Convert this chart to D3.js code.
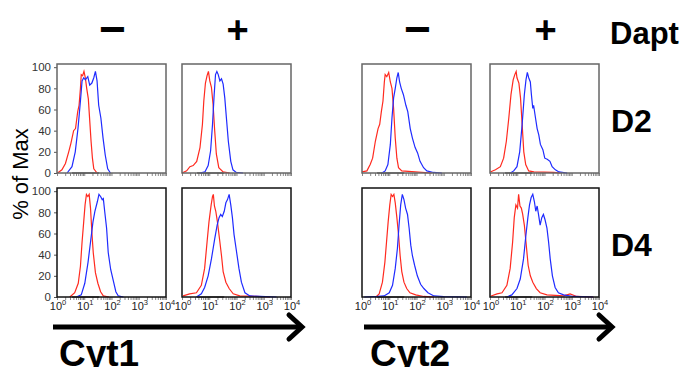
<!DOCTYPE html>
<html>
<head>
<meta charset="utf-8">
<script src="https://cdn.jsdelivr.net/npm/d3@7"></script>
<style>
  body { margin: 0; background: #fff; }
  svg { display: block; font-family: "Liberation Sans", Arial, sans-serif; }
</style>
</head>
<body>
<div id="chart"></div>
<script>
// histogram points: [log10 fluorescence, % of max]
const cyt1D2NegRed = [[0.02,0],[0.18,3],[0.31,9],[0.43,20],[0.51,28],[0.61,40],[0.68,42],[0.76,58],[0.81,64],[0.86,80],[0.89,93],[0.94,92],[0.99,96],[1.04,90],[1.09,80],[1.15,70],[1.2,50],[1.25,30],[1.3,14],[1.35,4],[1.47,0]];
const cyt1D2NegBlue = [[0.37,0],[0.55,6],[0.67,20],[0.77,42],[0.86,68],[0.92,87],[0.98,90],[1.04,88],[1.13,91],[1.2,83],[1.28,85],[1.35,90],[1.41,96],[1.47,87],[1.53,64],[1.61,52],[1.69,33],[1.77,17],[1.86,4],[1.96,0]];
const cyt1D2PosRed = [[0,0],[0.17,2],[0.29,6],[0.41,7],[0.54,11],[0.66,24],[0.75,46],[0.8,68],[0.86,85],[0.92,92],[0.97,96],[1.02,87],[1.08,81],[1.14,65],[1.2,40],[1.26,18],[1.35,5],[1.51,1],[1.75,0]];
const cyt1D2PosBlue = [[0.66,0],[0.84,1],[0.96,7],[1.05,21],[1.12,46],[1.18,74],[1.23,93],[1.28,96],[1.33,93],[1.39,87],[1.45,89],[1.51,84],[1.57,71],[1.63,52],[1.7,30],[1.79,11],[1.87,3],[1.99,0.5],[2.24,0]];
const cyt1D4NegRed = [[0.47,0],[0.65,4],[0.78,13],[0.86,29],[0.92,52],[0.98,71],[1.03,87],[1.08,97],[1.13,95],[1.18,97],[1.23,84],[1.28,61],[1.33,42],[1.41,23],[1.5,13],[1.6,5],[1.7,1],[1.91,0]];
const cyt1D4NegBlue = [[0.71,0],[0.89,2],[1.02,13],[1.14,33],[1.23,52],[1.32,71],[1.39,81],[1.48,90],[1.54,97],[1.6,95],[1.66,92],[1.7,93],[1.75,81],[1.82,65],[1.88,42],[1.97,26],[2.07,15],[2.16,5],[2.25,1],[2.44,0]];
const cyt1D4PosRed = [[0.04,1],[0.28,3],[0.53,4],[0.71,11],[0.83,27],[0.92,52],[0.99,71],[1.07,87],[1.12,95],[1.15,97],[1.19,86],[1.24,81],[1.3,71],[1.39,52],[1.45,39],[1.51,24],[1.61,14],[1.73,8],[1.88,3],[2.12,1],[2.74,0.5],[3.23,0]];
const cyt1D4PosBlue = [[0.53,0],[0.71,3],[0.83,9],[0.96,20],[1.08,36],[1.2,55],[1.29,68],[1.36,75],[1.42,78],[1.48,76],[1.55,81],[1.61,89],[1.67,92],[1.73,97],[1.79,87],[1.85,75],[1.91,59],[2,43],[2.09,27],[2.18,14],[2.31,4],[2.49,1],[2.86,0.5],[3.47,0]];
const cyt2D2NegRed = [[0,1],[0.18,2],[0.3,8],[0.39,14],[0.49,30],[0.59,42],[0.65,46],[0.71,58],[0.77,68],[0.82,86],[0.85,93],[0.91,91],[0.98,95],[1.04,86],[1.1,80],[1.16,61],[1.22,33],[1.28,14],[1.34,5],[1.46,2],[1.95,1],[2.56,0]];
const cyt2D2NegBlue = [[0.73,0],[0.85,2],[0.95,8],[1.04,27],[1.1,52],[1.16,71],[1.22,80],[1.28,90],[1.33,95],[1.38,86],[1.44,80],[1.52,74],[1.61,64],[1.68,58],[1.77,42],[1.85,33],[1.95,24],[2.04,19],[2.13,11],[2.26,5],[2.38,2],[2.62,0.5],[2.93,0]];
const cyt2D2PosRed = [[0.01,1],[0.2,3],[0.38,6],[0.5,14],[0.6,30],[0.69,52],[0.77,74],[0.85,88],[0.91,93],[0.96,96],[0.99,90],[1.06,85],[1.12,71],[1.18,46],[1.24,20],[1.31,8],[1.42,2],[1.61,1],[2.34,0.5],[2.59,0]];
const cyt2D2PosBlue = [[0.75,0],[0.87,2],[0.99,6],[1.09,20],[1.18,46],[1.26,74],[1.32,88],[1.37,95],[1.42,90],[1.48,86],[1.52,74],[1.57,61],[1.6,64],[1.67,52],[1.73,42],[1.79,36],[1.85,27],[1.94,22],[2.01,14],[2.1,13],[2.2,11],[2.28,6],[2.4,3],[2.53,1],[2.83,0]];
const cyt2D4NegRed = [[0.51,0],[0.63,3],[0.75,14],[0.84,33],[0.9,52],[0.96,71],[1.02,87],[1.07,97],[1.12,95],[1.17,97],[1.22,89],[1.28,75],[1.34,59],[1.4,39],[1.46,24],[1.54,14],[1.64,8],[1.76,4],[1.97,2],[2.27,0.5],[2.64,0]];
const cyt2D4NegBlue = [[0.08,0],[0.57,0.5],[0.81,1],[1,4],[1.12,11],[1.22,27],[1.3,46],[1.36,68],[1.42,87],[1.48,97],[1.54,92],[1.6,84],[1.67,78],[1.73,65],[1.79,49],[1.85,39],[1.93,30],[2.03,20],[2.15,12],[2.27,8],[2.42,4],[2.64,1],[3,0.3],[3.85,0]];
const cyt2D4PosRed = [[0.04,1],[0.26,3],[0.44,4],[0.62,11],[0.74,27],[0.83,52],[0.89,75],[0.95,87],[1.01,84],[1.05,97],[1.1,86],[1.15,84],[1.2,78],[1.26,68],[1.32,52],[1.4,30],[1.48,20],[1.57,14],[1.7,8],[1.84,4],[2.09,2],[2.7,1],[2.94,3],[3.18,0.5],[3.79,0]];
const cyt2D4PosBlue = [[0.62,0],[0.8,2],[0.99,8],[1.11,17],[1.23,36],[1.32,59],[1.39,75],[1.45,87],[1.51,94],[1.57,97],[1.63,90],[1.68,81],[1.73,86],[1.78,78],[1.84,68],[1.9,75],[1.96,78],[2.02,73],[2.09,65],[2.15,52],[2.21,36],[2.29,20],[2.39,9],[2.51,4],[2.7,2],[3.06,0.5],[3.79,0]];
// unstained control sits flat on the baseline
const controlTrace = [[0.55,0],[1.55,0]];

const yTicks = [0, 20, 40, 60, 80, 100];
const xMajor = [0, 1, 2, 3, 4];
const daptLabels = ['\u2212', '+'];
const dayLabels = ['D2', 'D4'];
const cytLabels = ['Cyt1', 'Cyt2'];

const panels = [
    {col: 0, row: 0, red: cyt1D2NegRed, blue: cyt1D2NegBlue},
    {col: 1, row: 0, red: cyt1D2PosRed, blue: cyt1D2PosBlue},
    {col: 2, row: 0, red: cyt2D2NegRed, blue: cyt2D2NegBlue},
    {col: 3, row: 0, red: cyt2D2PosRed, blue: cyt2D2PosBlue},
    {col: 0, row: 1, red: cyt1D4NegRed, blue: cyt1D4NegBlue},
    {col: 1, row: 1, red: cyt1D4PosRed, blue: cyt1D4PosBlue},
    {col: 2, row: 1, red: cyt2D4NegRed, blue: cyt2D4NegBlue},
    {col: 3, row: 1, red: cyt2D4PosRed, blue: cyt2D4PosBlue}
];

const W = 692, H = 367;
const colX = [57, 182, 362, 490];
const rowY = [64, 188];
const size = 109;

const svg = d3.select('#chart').append('svg')
    .attr('width', W)
    .attr('height', H);

const x = d3.scaleLog().domain([1, 1e4]).range([0, size]);
const y = d3.scaleLinear().domain([0, 103]).range([size, 0]);

const line = d3.line()
    .x(d => x(Math.pow(10, d[0])))
    .y(d => y(d[1]));

panels.forEach(p => {
    const g = svg.append('g')
        .attr('transform', `translate(${colX[p.col]},${rowY[p.row]})`);
    const frame = p.row === 0 ? '#666' : '#111';

    // minor + major log ticks along the bottom
    const xAxis = g.append('g')
        .attr('transform', `translate(0,${size})`)
        .call(d3.axisBottom(x).tickSizeInner(3).tickSizeOuter(0)
            .tickValues(x.ticks())
            .tickFormat(() => ''));
    xAxis.select('.domain').remove();
    xAxis.selectAll('line').attr('stroke', '#888');

    if (p.row === 1) {
        xMajor.forEach(e => {
            const t = g.append('text')
                .attr('x', x(Math.pow(10, e)) + 1)
                .attr('y', size + 13)
                .attr('text-anchor', 'middle')
                .attr('font-size', 11)
                .attr('fill', '#222');
            t.append('tspan').text('10');
            t.append('tspan').attr('dy', -5).attr('font-size', 7.5).text(e);
        });
    }

    if (p.col === 0) {
        const yAxis = g.append('g')
            .call(d3.axisLeft(y).tickValues(yTicks).tickSize(3));
        yAxis.select('.domain').remove();
        yAxis.selectAll('text').attr('font-size', 11.5).attr('fill', '#333')
            .attr('font-family', '"Liberation Sans", Arial, sans-serif');
        yAxis.selectAll('line').attr('stroke', '#555');
    }

    g.append('path')
        .datum(controlTrace)
        .attr('d', line)
        .attr('fill', 'none')
        .attr('stroke', '#222')
        .attr('stroke-width', 1.2);

    g.append('path')
        .datum(p.red)
        .attr('d', line)
        .attr('fill', 'none')
        .attr('stroke', '#ff2a1f')
        .attr('stroke-width', 1.2);

    g.append('path')
        .datum(p.blue)
        .attr('d', line)
        .attr('fill', 'none')
        .attr('stroke', '#1f2bff')
        .attr('stroke-width', 1.2);

    g.append('rect')
        .attr('width', size)
        .attr('height', size)
        .attr('fill', 'none')
        .attr('stroke', frame)
        .attr('stroke-width', 1.5);
});

// Dapt +/- header
colX.forEach((cx, i) => {
    const minus = i % 2 === 0;
    svg.append('text')
        .attr('x', cx + size / 2 + 1)
        .attr('y', minus ? 45 : 43)
        .attr('text-anchor', 'middle')
        .attr('font-size', minus ? 46 : 38)
        .attr('font-weight', 'bold')
        .text(daptLabels[i % 2]);
});

svg.append('text')
    .attr('x', 610)
    .attr('y', 44)
    .attr('font-size', 31)
    .attr('font-weight', 'bold')
    .text('Dapt');

dayLabels.forEach((lab, i) => {
    svg.append('text')
        .attr('x', 611)
        .attr('y', rowY[i] + 68)
        .attr('font-size', 32)
        .attr('font-weight', 'bold')
        .text(lab);
});

svg.append('text')
    .attr('transform', 'translate(28,174) rotate(-90)')
    .attr('text-anchor', 'middle')
    .attr('font-size', 22)
    .text('% of Max');

// arrows under each cytokine pair
[[53, 300], [364, 610]].forEach((a, i) => {
    const ay = 327;
    svg.append('line')
        .attr('x1', a[0]).attr('x2', a[1])
        .attr('y1', ay).attr('y2', ay)
        .attr('stroke', '#000')
        .attr('stroke-width', 5);
    svg.append('path')
        .attr('d', `M${a[1] - 11},${ay - 12} L${a[1] + 2},${ay} L${a[1] - 11},${ay + 12}`)
        .attr('fill', 'none')
        .attr('stroke', '#000')
        .attr('stroke-width', 5)
        .attr('stroke-linecap', 'round')
        .attr('stroke-linejoin', 'miter');
    svg.append('text')
        .attr('x', a[0] + 6)
        .attr('y', 366)
        .attr('font-size', 37)
        .attr('font-weight', 'bold')
        .text(cytLabels[i]);
});
</script>
</body>
</html>
